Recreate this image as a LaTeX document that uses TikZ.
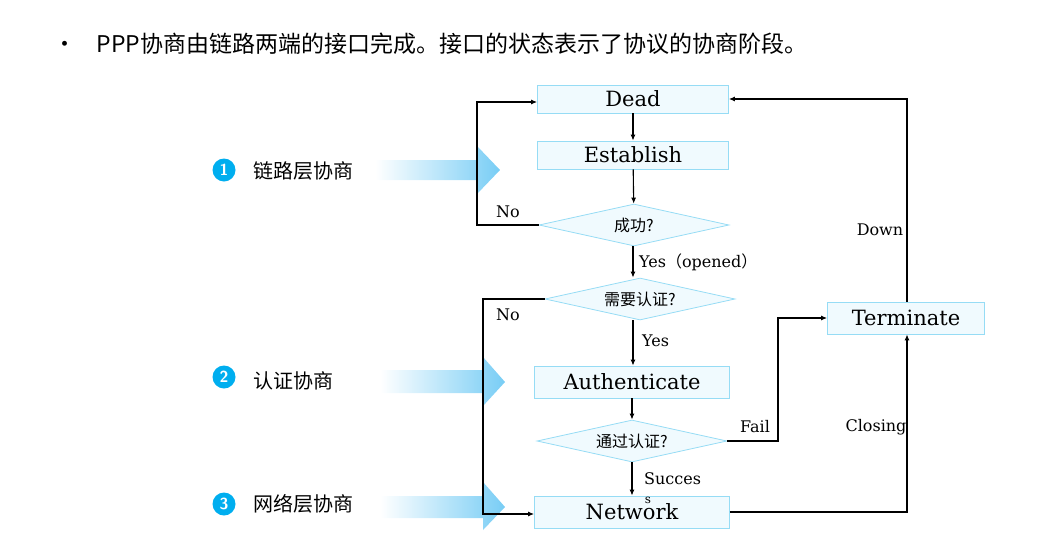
\documentclass[tikz,border=0pt]{standalone}
\usepackage{fontspec}
\setmainfont{DejaVu Serif}
\newfontfamily\cjk{Noto Sans CJK SC}
\usetikzlibrary{shapes.geometric,arrows.meta}
\definecolor{bfill}{RGB}{240,250,254}
\definecolor{bdraw}{RGB}{150,220,245}
\definecolor{cblue}{RGB}{0,174,239}
\definecolor{ablue}{RGB}{120,205,245}
\begin{document}
\begin{tikzpicture}[x=1pt,y=-1pt,
 box/.style={draw=bdraw,fill=bfill,line width=0.8pt,minimum width=191pt,minimum height=28pt,inner sep=0pt,font=\fontsize{21}{23}\selectfont},
 dia/.style={diamond,aspect=4.5,draw=bdraw,fill=bfill,line width=0.8pt,minimum width=190pt,minimum height=42pt,inner sep=0pt,font=\cjk\fontsize{16}{18}\selectfont},
 con/.style={line width=1.1pt,-{Latex[length=6pt,width=5pt]}},
 lab/.style={font=\fontsize{16}{18}\selectfont,inner sep=1pt},
 num/.style={circle,fill=cblue,text=white,minimum size=23pt,inner sep=0pt,font=\sffamily\bfseries\fontsize{16}{17}\selectfont},
 side/.style={anchor=west,font=\cjk\fontsize{20}{22}\selectfont},
 big/.style={left color=white,right color=ablue,draw=none}]
\useasboundingbox (0,0) rectangle (1042,555);
\node[anchor=west,font=\cjk\fontsize{23}{25}\selectfont] (title) at (50,44) {•\hspace{20pt}PPP协商由链路两端的接口完成。接口的状态表示了协议的协商阶段。};
% big arrows
\path[big] (375,160) -- (477,160) -- (477,146) -- (500,170) -- (477,194) -- (477,180) -- (375,180) -- cycle;
\path[big] (380,370) -- (483,370) -- (483,357) -- (505,382) -- (483,406) -- (483,393) -- (380,393) -- cycle;
\path[big] (380,496) -- (483,496) -- (483,482) -- (505,507) -- (483,530) -- (483,518) -- (380,518) -- cycle;
\node[num] (n1) at (224,170) {1};
\node[num] (n2) at (224,377) {2};
\node[num] (n3) at (224,504) {3};
\node[side] (t1) at (250,171) {链路层协商};
\node[side] (t2) at (250,381) {认证协商};
\node[side] (t3) at (250,504) {网络层协商};
% nodes
\node[box] (dead) at (633,99) {Dead};
\node[box] (est) at (633,155) {Establish};
\node[dia] (q1) at (634,225) {成功?};
\node[dia] (q2) at (640,299) {需要认证?};
\node[box,minimum width=195pt,minimum height=32pt] (auth) at (632,382) {Authenticate};
\node[dia] (q3) at (632,441) {通过认证?};
\node[box,minimum width=195pt,minimum height=32pt] (net) at (632,512) {Network};
\node[box,minimum width=157pt,minimum height=32pt] (term) at (906,318) {Terminate};
\coordinate (c1) at (477,225);
\coordinate (c2) at (477,102);
\coordinate (c3) at (483,299);
\coordinate (c4) at (483,514);
\coordinate (c5) at (778,441);
\coordinate (c6) at (778,318);
\coordinate (c7) at (907,512);
\coordinate (c8) at (907,99);
% connectors
\draw[con] (dead) -- (est);
\draw[con] (est) -- (q1);
\draw[con] (q1.west) -- (c1) -- (c2) -- (c2 -| dead.west);
\draw[con] (q1.south -| dead) -- (q2.north -| dead);
\draw[con] (q2.west) -- (c3) -- (c4) -- (c4 -| net.west);
\draw[con] (q2.south -| dead) -- (auth.north -| dead);
\draw[con] (auth) -- (q3);
\draw[con] (q3.east) -- (c5) -- (c6) -- (term.west);
\draw[con] (q3) -- (net);
\draw[con] (net.east) -- (c7) -- (term.south -| c7);
\draw[con] (term.north -| c8) -- (c8) -- (dead.east);
% labels
\node[lab] (lno1) at (508,212) {No};
\node[lab,anchor=west] (lyes1) at (638,262) {Yes{\cjk （}opened{\cjk ）}};
\node[lab] (lno2) at (508,315) {No};
\node[lab,anchor=west] (lyes2) at (641,341) {Yes};
\node[lab] (lfail) at (755,427) {Fail};
\node[lab,anchor=west] (lsucc) at (643,479) {Succes};
\node[lab,font=\fontsize{12}{13}\selectfont] (ls) at (648,500) {s};
\node[lab] (lclose) at (876,427) {Closing};
\node[lab] (ldown) at (880,230) {Down};
\end{tikzpicture}
\end{document}
